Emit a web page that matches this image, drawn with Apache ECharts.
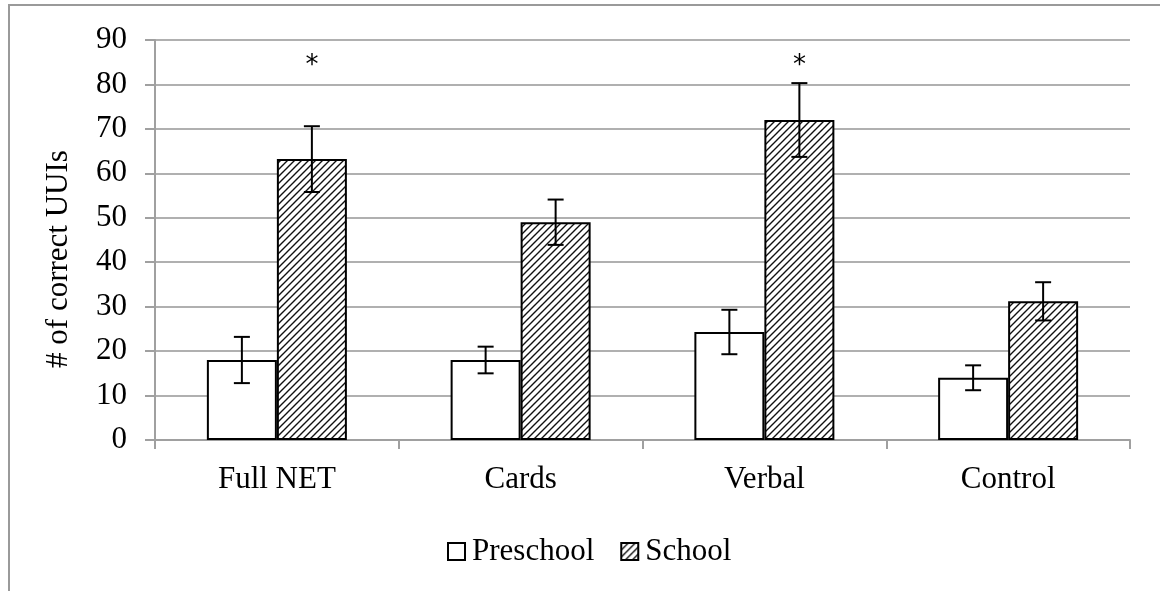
<!DOCTYPE html>
<html>
<head>
<meta charset="utf-8">
<script src="https://cdn.jsdelivr.net/npm/echarts@6/dist/echarts.min.js"></script>
<style>
  html, body { margin: 0; padding: 0; background: #fff; }
  #main { width: 1160px; height: 591px; }
</style>
</head>
<body>
<div id="main"></div>
<script>
// data
var categories = ["Full NET", "Cards", "Verbal", "Control"];
var preschool = [18, 18, 24.3, 14];
var preschoolErr = [5.2, 3, 5, 2.8];
var school = [63.2, 49, 72, 31.2];
var schoolErr = [7.4, 5.1, 8.3, 4.3];
var sigMarks = ["*", "", "*", ""]; // significance stars above School bars
var sigLevel = 84;
var yTicks = { min: 0, max: 90, step: 10 };

var FONT = "Liberation Serif";
var BAR_W = 70;

// hatch pattern for School bars
function hatch() {
  var c = document.createElement("canvas");
  var s = 7;
  c.width = s; c.height = s;
  var ctx = c.getContext("2d");
  ctx.fillStyle = "#fff";
  ctx.fillRect(0, 0, s, s);
  ctx.strokeStyle = "#111";
  ctx.lineWidth = 1.4;
  ctx.beginPath();
  ctx.moveTo(-1, s + 1); ctx.lineTo(s + 1, -1);
  ctx.moveTo(-2, 2); ctx.lineTo(2, -2);
  ctx.moveTo(s - 2, s + 2); ctx.lineTo(s + 2, s - 2);
  ctx.stroke();
  return { image: c, repeat: "repeat" };
}
var hatchFill = hatch();

function errData(vals, errs) {
  return vals.map(function (v, i) { return [i, v - errs[i], v + errs[i]]; });
}

function errRender(sign) {
  return function (params, api) {
    var lo = api.coord([api.value(0), api.value(1)]);
    var hi = api.coord([api.value(0), api.value(2)]);
    var x = lo[0] + sign * BAR_W / 2;
    var cap = 8;
    var st = { stroke: "#000", lineWidth: 2 };
    return {
      type: "group",
      children: [
        { type: "line", shape: { x1: x, y1: lo[1], x2: x, y2: hi[1] }, style: st },
        { type: "line", shape: { x1: x - cap, y1: lo[1], x2: x + cap, y2: lo[1] }, style: st },
        { type: "line", shape: { x1: x - cap, y1: hi[1], x2: x + cap, y2: hi[1] }, style: st }
      ]
    };
  };
}

var chart = echarts.init(document.getElementById("main"));
var option = {
  backgroundColor: "#fff",
  animation: false,
  textStyle: { fontFamily: FONT, color: "#000" },
  graphic: [{
    type: "rect",
    shape: { x: 9, y: 5, width: 1300, height: 800 },
    style: { fill: null, stroke: "#9a9a9a", lineWidth: 2 },
    silent: true
  }],
  grid: { left: 155, right: 30, top: 40, bottom: 151 },
  legend: {
    left: 442,
    top: 531,
    itemWidth: 17,
    itemHeight: 17,
    itemGap: 26,
    icon: "rect",
    textStyle: { fontFamily: FONT, fontSize: 31, color: "#000", padding: [0, 0, 0, 2] },
    data: ["Preschool", "School"]
  },
  xAxis: {
    type: "category",
    data: categories,
    axisLine: { lineStyle: { color: "#a0a0a0", width: 2 } },
    axisTick: { show: true, length: 9, lineStyle: { color: "#a0a0a0", width: 2 } },
    axisLabel: { fontFamily: FONT, fontSize: 31, color: "#000", margin: 24 }
  },
  yAxis: {
    type: "value",
    min: yTicks.min,
    max: yTicks.max,
    interval: yTicks.step,
    name: "# of correct UUIs",
    nameLocation: "middle",
    nameGap: 81,
    nameRotate: 90,
    nameTextStyle: { fontFamily: FONT, fontSize: 31, color: "#000", padding: [0, 38, 0, 0] },
    axisLine: { show: true, lineStyle: { color: "#a0a0a0", width: 2 } },
    axisTick: { show: true, length: 10, lineStyle: { color: "#a0a0a0", width: 2 } },
    axisLabel: { fontFamily: FONT, fontSize: 31, color: "#000", margin: 28 },
    splitLine: { lineStyle: { color: "#b0b0b0", width: 2 } }
  },
  series: [
    {
      name: "Preschool",
      type: "bar",
      data: preschool,
      barWidth: BAR_W,
      barGap: "0%",
      itemStyle: { color: "#fff", borderColor: "#000", borderWidth: 2 }
    },
    {
      name: "School",
      type: "bar",
      data: school,
      barWidth: BAR_W,
      barGap: "0%",
      itemStyle: { color: hatchFill, borderColor: "#000", borderWidth: 2 }
    },
    {
      type: "custom",
      renderItem: errRender(-1),
      data: errData(preschool, preschoolErr),
      encode: { x: 0, y: [1, 2] },
      z: 5
    },
    {
      type: "custom",
      renderItem: errRender(1),
      data: errData(school, schoolErr),
      encode: { x: 0, y: [1, 2] },
      z: 5
    },
    {
      type: "custom",
      data: sigMarks.map(function (m, i) { return [i, sigLevel, m]; }),
      renderItem: function (params, api) {
        var p = api.coord([api.value(0), api.value(1)]);
        return {
          type: "text",
          style: {
            x: p[0] + BAR_W / 2,
            y: p[1],
            text: sigMarks[params.dataIndex],
            fontFamily: "DejaVu Sans",
            fontSize: 26,
            fill: "#000",
            align: "center",
            verticalAlign: "middle"
          }
        };
      },
      encode: { x: 0, y: 1 },
      z: 6
    }
  ]
};
chart.setOption(option);
</script>
</body>
</html>
